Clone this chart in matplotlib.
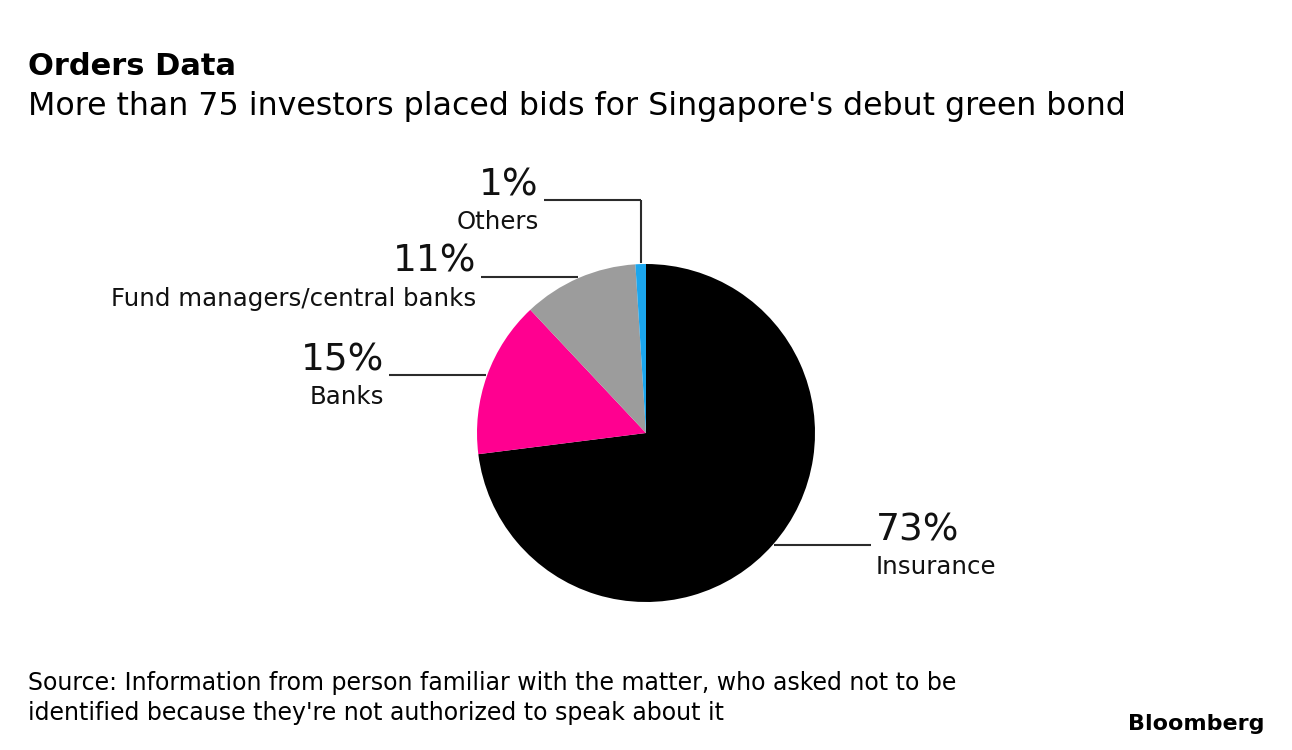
import matplotlib.pyplot as plt
import numpy as np

# Investor breakdown of orders
categories = ["Insurance", "Banks", "Fund managers/central banks", "Others"]
shares = [73, 15, 11, 1]
pct_labels = ["73%", "15%", "11%", "1%"]
colors = ["#000000", "#ff0090", "#9c9c9c", "#1ba6ee"]

W, H = 1292, 750
plt.rcParams['font.family'] = ['DejaVu Sans']

fig = plt.figure(figsize=(W / 100, H / 100), dpi=100)
ax = fig.add_axes([0, 0, 1, 1])

cx, cy, r = 646, H - 433, 169
wedges, _ = ax.pie(shares, colors=colors, startangle=90, counterclock=False,
                   center=(cx, cy), radius=r, wedgeprops=dict(linewidth=0))
ax.set_xlim(0, W)
ax.set_ylim(0, H)
ax.set_aspect('equal')
ax.axis('off')

line_kw = dict(color='#2b2b2b', lw=1.5, solid_capstyle='butt')
seg = 97
for w, cat, pct in zip(wedges, categories, pct_labels):
    mid = np.deg2rad((w.theta1 + w.theta2) / 2)
    px, py = cx + (r + 1) * np.cos(mid), cy + (r + 1) * np.sin(mid)
    if cat == "Others":
        ly = H - 200
        ax.plot([px, px], [py, ly], **line_kw)
        ax.plot([px, px - seg], [ly, ly], **line_kw)
        tx, ha = px - seg - 5, 'right'
    else:
        ly = py
        if np.cos(mid) > 0:
            ax.plot([px, px + seg], [ly, ly], **line_kw)
            tx, ha = px + seg + 5, 'left'
        else:
            ax.plot([px, px - seg], [ly, ly], **line_kw)
            tx, ha = px - seg - 5, 'right'
    ax.text(tx, ly + 5, pct, fontsize=27, ha=ha, va='baseline', color='#111111')
    ax.text(tx, ly - 29, cat, fontsize=17.6, ha=ha, va='baseline', color='#111111')

fig.text(28 / W, 1 - 75 / H, "Orders Data", fontsize=22, fontweight='bold',
         va='baseline', ha='left')
fig.text(28 / W, 1 - 115 / H,
         "More than 75 investors placed bids for Singapore's debut green bond",
         fontsize=22.75, va='baseline', ha='left')
fig.text(28 / W, 1 - 690 / H,
         "Source: Information from person familiar with the matter, who asked not to be",
         fontsize=17, va='baseline', ha='left')
fig.text(28 / W, 1 - 720 / H,
         "identified because they're not authorized to speak about it",
         fontsize=17, va='baseline', ha='left')
fig.text(1264 / W, 1 - 730 / H, "Bloomberg", fontsize=16, fontweight='bold',
         va='baseline', ha='right')

fig.savefig("out.png", dpi=100)
